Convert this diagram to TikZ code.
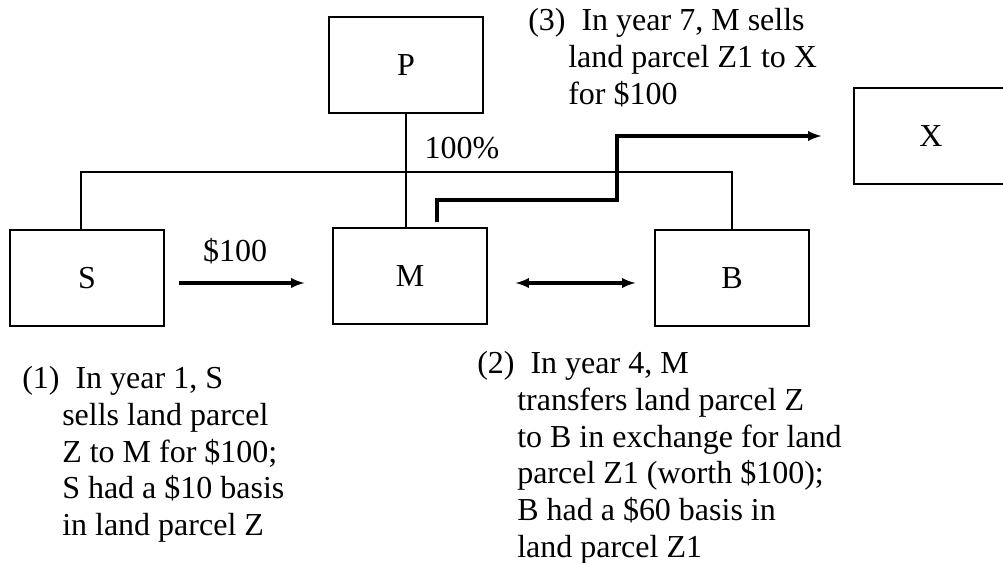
\documentclass[tikz,border=0pt]{standalone}
\usepackage{fontspec}
\setmainfont{Liberation Serif}
\usetikzlibrary{calc, positioning}

\begin{document}
\begin{tikzpicture}[>=latex, x=0.75pt, y=-0.75pt,
  font=\fontsize{24}{27.6}\selectfont,
  entity/.style={draw, line width=0.9pt, minimum width=115.5pt, minimum height=72pt, inner sep=0pt},
  link/.style={line width=0.9pt},
  transfer/.style={line width=2.4pt},
  note/.style={anchor=north west, align=left, inner sep=0pt}]
  \useasboundingbox (0,0) rectangle (1003,563);
  \node (P) at (406,65) [entity] {P};
  \node (M) at (410,276) [entity] {M};
  \node (S) at (87,278) [entity] {S};
  \node (B) at (732,278) [entity] {B};
  \node (X) at (931,136) [entity] {X};
  \coordinate (bar) at (406,172);
  \coordinate (turn) at (617,200);
  \draw [link] (P.south) -- (P.south |- M.north);
  \draw [link] ([xshift=-4.5pt]S.north) |- (bar) -| (B.north);
  \draw [transfer, ->] ($(S.east)+(14,5)$) -- ($(M.west)+(-28,7)$);
  \draw [transfer, <->] ($(M.east)+(28,7)$) -- ($(B.west)+(-19,5)$);
  \draw [transfer, ->] ($(M.north)+(27,-5)$) |- (turn) |- ($(X.west)+(-32,0)$);
  \node (own) at (462,148) {100\%};
  \node (price) at (235,251) {\$100};
  \node (sale) at (22,366) [note] {(1)~~In year 1, S\\
    \hspace*{30pt}sells land parcel\\
    \hspace*{30pt}Z to M for \$100;\\
    \hspace*{30pt}S had a \$10 basis\\
    \hspace*{30pt}in land parcel Z};
  \node (swap) at (477,351) [note] {(2)~~In year 4, M\\
    \hspace*{30pt}transfers land parcel Z\\
    \hspace*{30pt}to B in exchange for land\\
    \hspace*{30pt}parcel Z1 (worth \$100);\\
    \hspace*{30pt}B had a \$60 basis in\\
    \hspace*{30pt}land parcel Z1};
  \node (resale) at (528,8) [note] {(3)~~In year 7, M sells\\
    \hspace*{30pt}land parcel Z1 to X\\
    \hspace*{30pt}for \$100};
\end{tikzpicture}
\end{document}
